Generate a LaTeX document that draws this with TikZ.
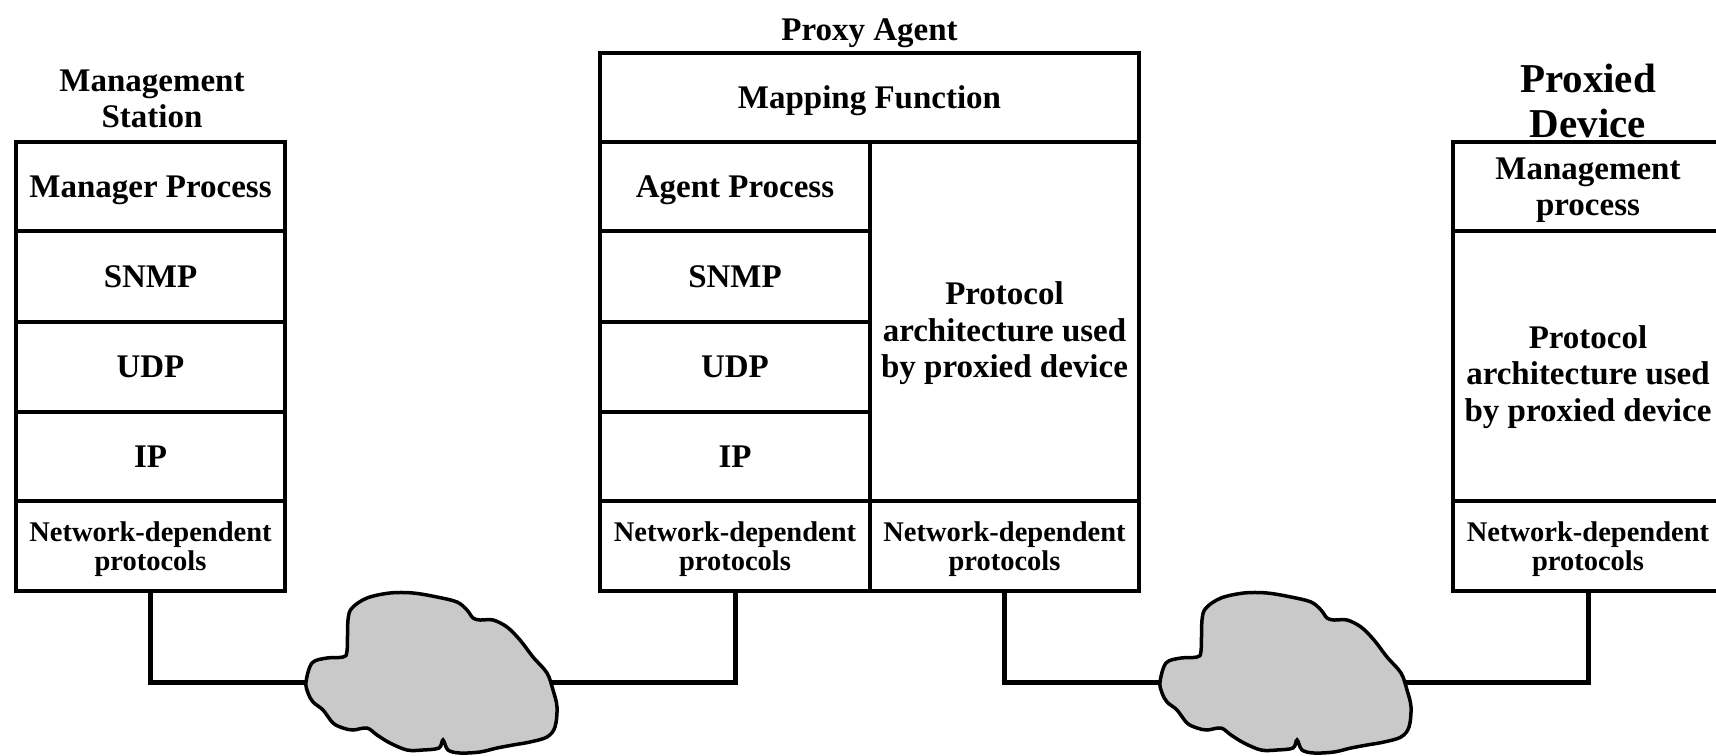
\documentclass[tikz,border=0pt]{standalone}
\usepackage{fontspec}
\setmainfont{Liberation Serif}
\definecolor{cloudgray}{RGB}{201,201,201}
\tikzset{
  cell/.style={draw, line width=4pt, inner sep=0pt, outer sep=0pt, align=center,
    text depth=-8pt, font=\fontsize{33}{36}\selectfont\bfseries},
  small/.style={font=\fontsize{28.5}{29.5}\selectfont\bfseries},
  title/.style={align=center, inner sep=0pt, font=\fontsize{33}{36.5}\selectfont\bfseries},
  bigtitle/.style={align=center, inner sep=0pt, font=\fontsize{41}{45}\selectfont\bfseries},
  txt/.style={align=center, inner sep=0pt, text depth=-8pt,
    font=\fontsize{33}{36.5}\selectfont\bfseries},
  link/.style={line width=5pt, line join=miter, line cap=rect},
  cloudline/.style={line width=3.5pt, fill=cloudgray, draw=black},
  netcloud/.pic={
    \filldraw[cloudline] plot[smooth cycle, tension=0.55] coordinates {
      (0,0) (6,-19) (21,-24) (37,-25) (41,-31) (42,-62) (46,-74) (61,-84)
      (84,-89) (107,-89) (131,-85) (151,-80) (161,-72) (167,-64) (174,-62)
      (187,-62) (201,-55) (214,-42) (227,-25) (241,-9) (247,8) (251,25)
      (249,45) (241,55) (224,60) (207,63) (191,66) (174,70) (154,71)
      (142,68) (137,58) (133,66) (117,68) (101,68) (84,61) (71,53) (61,46)
      (47,48) (37,46) (27,41) (17,28) (7,20) (2,11)};
  }
}
\begin{document}
\begin{tikzpicture}[x=1pt, y=-1pt]
  \fill[white] (0,0) rectangle (1716,755);
  \clip (0,0) rectangle (1716,755);

  % Management station stack
  \node[title] (mstitle) at (152,99) {Management\\Station};
  \node[cell, minimum width=269pt, minimum height=89pt] (ms1) at (150.5,186.5) {Manager Process};
  \node[cell, minimum width=269pt, minimum height=91pt] (ms2) at (150.5,276.5) {SNMP};
  \node[cell, minimum width=269pt, minimum height=90pt] (ms3) at (150.5,367) {UDP};
  \node[cell, minimum width=269pt, minimum height=89pt] (ms4) at (150.5,456.5) {IP};
  \node[cell, small, minimum width=269pt, minimum height=90pt] (ms5) at (150.5,546) {Network-dependent\\protocols};

  % Proxy agent
  \node[title, anchor=base] (patitle) at (869.5,40) {Proxy Agent};
  \node[cell, minimum width=539pt, minimum height=89pt] (pa0) at (869.5,97.5) {Mapping Function};
  \node[cell, minimum width=270pt, minimum height=89pt] (pl1) at (735,186.5) {Agent Process};
  \node[cell, minimum width=270pt, minimum height=91pt] (pl2) at (735,276.5) {SNMP};
  \node[cell, minimum width=270pt, minimum height=90pt] (pl3) at (735,367) {UDP};
  \node[cell, minimum width=270pt, minimum height=89pt] (pl4) at (735,456.5) {IP};
  \node[cell, small, minimum width=270pt, minimum height=90pt] (pl5) at (735,546) {Network-dependent\\protocols};
  \node[cell, minimum width=269pt, minimum height=359pt] (pr1) at (1004.5,321.5) {};
  \node[txt] (pr1text) at ([yshift=-8.5pt]pr1.center) {Protocol\\architecture used\\by proxied device};
  \node[cell, small, minimum width=269pt, minimum height=90pt] (pr2) at (1004.5,546) {Network-dependent\\protocols};

  % Proxied device
  \node[bigtitle] (pdtitle) at (1588,101) {Proxied\\Device};
  \node[cell, minimum width=270pt, minimum height=89pt] (pd1) at (1588,186.5) {Management\\process};
  \node[cell, minimum width=270pt, minimum height=270pt] (pd2) at (1588,366) {};
  \node[txt] (pd2text) at ([yshift=-7.5pt]pd2.center) {Protocol\\architecture used\\by proxied device};
  \node[cell, small, minimum width=270pt, minimum height=90pt] (pd3) at (1588,546) {Network-dependent\\protocols};

  % network attachment points on the clouds
  \coordinate (c1w) at (310,682);
  \coordinate (c1e) at (553,682);
  \coordinate (c2w) at (1164,682);
  \coordinate (c2e) at (1407,682);

  \draw[link] (ms5.south) |- (c1w);
  \draw[link] (c1e) -| (pl5.south);
  \draw[link] (pr2.south) |- (c2w);
  \draw[link] (c2e) -| (pd3.south);

  % networks
  \pic at (306,682) {netcloud};
  \pic at (1160,682) {netcloud};
\end{tikzpicture}
\end{document}
